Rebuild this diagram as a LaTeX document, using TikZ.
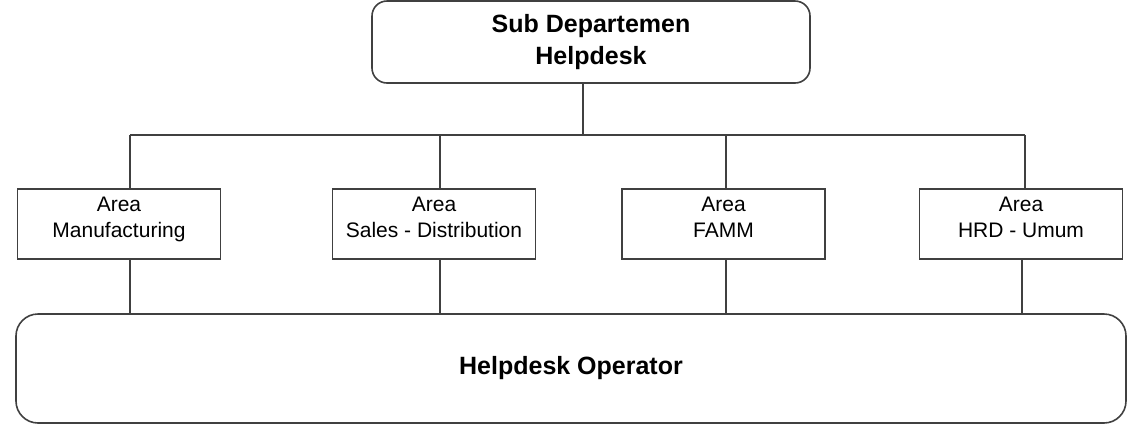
\documentclass[tikz,border=0pt]{standalone}
\usepackage{fontspec}
\setmainfont{Liberation Sans}
\usetikzlibrary{positioning}

\tikzset{
  areabox/.style={draw=black!75, line width=0.8pt, minimum width=101.5pt, minimum height=35pt,
    inner sep=0pt, align=center, font=\fontsize{10.5}{13}\selectfont,
    execute at end node={\rule[-7pt]{0pt}{0pt}}},
  headbox/.style={draw=black!75, line width=0.8pt, rounded corners=7.5pt, inner sep=0pt,
    align=center, font=\fontsize{12.5}{16}\selectfont\bfseries},
  link/.style={draw=black!75, line width=0.8pt}
}

\begin{document}
\begin{tikzpicture}[x=0.5pt, y=-0.5pt]
\useasboundingbox (0,0) rectangle (1141,425);

\def\ya{42};
\def\yb{135};
\def\yc{224};
\def\yd{368.5};

\node[headbox, minimum width=219pt, minimum height=41pt] (sub) at (591, \ya) {Sub Departemen\\Helpdesk};

\node[areabox] (man) at (119, \yc) {Area\\Manufacturing};
\node[areabox] (sal) at (434, \yc) {Area\\Sales - Distribution};
\node[areabox] (fam) at (723.5, \yc) {Area\\FAMM};
\node[areabox] (hrd) at (1021, \yc) {Area\\HRD - Umum};

\node[headbox, rounded corners=11pt, minimum width=555pt, minimum height=54.5pt] (opr) at (571, \yd) {Helpdesk Operator};

% bus
\coordinate (ta) at (130, \yb);
\coordinate (tb) at (440, \yb);
\coordinate (tc) at (726, \yb);
\coordinate (td) at (1025, \yb);
\coordinate (tm) at (583, \yb);
\draw[link] (ta) -- (td);
\draw[link] (sub.south -| tm) -- (tm);

\draw[link] (ta) -- (man.north -| ta);
\draw[link] (tb) -- (sal.north -| tb);
\draw[link] (tc) -- (fam.north -| tc);
\draw[link] (td) -- (hrd.north -| td);

% down to operator
\coordinate (ba) at (130, \yd);
\coordinate (bb) at (440, \yd);
\coordinate (bc) at (726, \yd);
\coordinate (bd) at (1022, \yd);
\draw[link] (man.south -| ba) -- (opr.north -| ba);
\draw[link] (sal.south -| bb) -- (opr.north -| bb);
\draw[link] (fam.south -| bc) -- (opr.north -| bc);
\draw[link] (hrd.south -| bd) -- (opr.north -| bd);
\end{tikzpicture}
\end{document}
